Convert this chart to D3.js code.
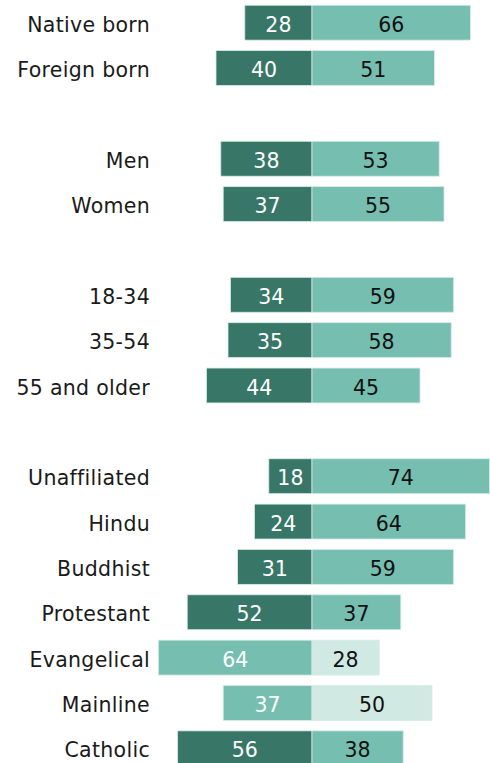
<!DOCTYPE html>
<html><head><meta charset="utf-8">
<script src="https://cdn.jsdelivr.net/npm/d3@7"></script>
<style>body{margin:0;background:#fff}svg{display:block}</style>
</head><body>
<svg id="chart" width="490" height="763"></svg>
<script>
const categories = ["Native born","Foreign born","","Men","Women","","18-34","35-54","55 and older","","Unaffiliated","Hindu","Buddhist","Protestant","Evangelical","Mainline","Catholic"];
const leftValues  = [28,40,null,38,37,null,34,35,44,null,18,24,31,52,64,37,56];
const rightValues = [66,51,null,53,55,null,59,58,45,null,74,64,59,37,28,50,38];
const subRows = ["Evangelical","Mainline"];

const svg = d3.select("#chart");
const center = 312;
const x = d3.scaleLinear().domain([0,100]).range([0,240]);
const y = d3.scaleBand().domain(d3.range(categories.length)).range([0,771]).paddingInner(0.23).paddingOuter(0.115);

const rows = categories.map((c,i)=>({c,i,l:leftValues[i],r:rightValues[i],sub:subRows.includes(c)})).filter(d=>d.c!=="");

const g = svg.append("g");
const font = "'DejaVu Sans', Verdana, sans-serif";
const base = d => y(d.i)+y.bandwidth()/2+9;

g.selectAll("text.cat").data(rows).join("text")
  .attr("x",150).attr("y",base)
  .attr("text-anchor","end")
  .style("font-family",font).style("font-size","20.5px").style("letter-spacing","0.3px").attr("fill","#1a1a1a")
  .text(d=>d.c);

g.selectAll("rect.l").data(rows).join("rect")
  .attr("x",d=>center-x(d.l)).attr("y",d=>y(d.i)).attr("width",d=>x(d.l)).attr("height",y.bandwidth())
  .attr("fill",d=>d.sub?"#76bfb0":"#387767").attr("stroke","#d6ece6").attr("stroke-width",0.8);
g.selectAll("rect.r").data(rows).join("rect")
  .attr("x",center).attr("y",d=>y(d.i)).attr("width",d=>x(d.r)).attr("height",y.bandwidth())
  .attr("fill",d=>d.sub?"#d1e9e3":"#76bfb0").attr("stroke","#d6ece6").attr("stroke-width",0.8);

g.selectAll("text.lv").data(rows).join("text")
  .attr("x",d=>center-x(d.l)/2).attr("y",base)
  .attr("text-anchor","middle")
  .style("font-family",font).style("font-size","20.5px").attr("fill","#fff")
  .text(d=>d.l);
g.selectAll("text.rv").data(rows).join("text")
  .attr("x",d=>center+x(d.r)/2).attr("y",base)
  .attr("text-anchor","middle")
  .style("font-family",font).style("font-size","20.5px").attr("fill","#111")
  .text(d=>d.r);
</script>
</body></html>
